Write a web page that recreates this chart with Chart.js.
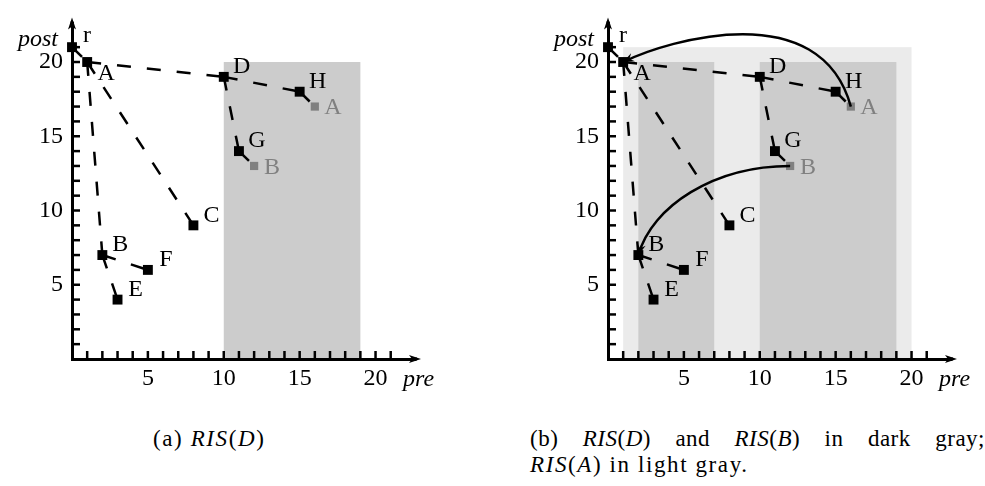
<!DOCTYPE html>
<html>
<head>
<meta charset="utf-8">
<script src="https://cdn.jsdelivr.net/npm/chart.js@4"></script>
<style>
  body { margin: 0; background: #fff; width: 985px; height: 486px; position: relative; overflow: hidden; font-family: "Liberation Serif", "Times New Roman", "DejaVu Serif", serif; }
  .box { position: absolute; top: 0; width: 450px; height: 400px; }
  #boxA { left: 0; }
  #boxB { left: 536px; }
  .cap { position: absolute; font-size: 23px; line-height: 26px; letter-spacing: 1.6px; color: #000; white-space: nowrap; }
  #capA { left: 153px; top: 426px; }
  #capB { left: 530px; top: 426px; width: 455px; }
  #capB .l1 { text-align: justify; text-align-last: justify; white-space: normal; letter-spacing: 0.5px; }
</style>
</head>
<body>
<div class="box" id="boxA"><canvas id="chartA" width="450" height="400"></canvas></div>
<div class="box" id="boxB"><canvas id="chartB" width="450" height="400"></canvas></div>
<div class="cap" id="capA">(a) <i>RIS</i>(<i>D</i>)</div>
<div class="cap" id="capB">
  <div class="l1">(b) <i>RIS</i>(<i>D</i>) and <i>RIS</i>(<i>B</i>) in dark gray;</div>
  <div><i>RIS</i>(<i>A</i>) in light gray.</div>
</div>
<script>
// nodes of the tree (pre, post)
const NODES = ["r", "A", "B", "C", "D", "E", "F", "G", "H"];
const PRE   = [0, 1, 2, 8, 10, 3, 5, 11, 15];
const POST  = [21, 20, 7, 9, 19, 4, 6, 14, 18];
// gray copies of A and B
const GHOSTS = ["A", "B"];
const GHOST_PRE  = [16, 12];
const GHOST_POST = [17, 13];
// dashed edges
const EDGES = [["r", "A"], ["A", "D"], ["A", "C"], ["A", "B"], ["B", "E"], ["B", "F"],
               ["D", "G"], ["D", "H"], ["H", "A'"], ["G", "B'"]];
// regions [preFrom, preTo, postFrom, postTo]
const RIS_D = [10, 19, 0, 20];
const RIS_B = [2, 7, 0, 20];
const RIS_A = [1, 20, 0, 21];
// curved arrows: from, to, two control points (pre, post)
const ARCS_B = [
  { from: "A'", to: "A", c1: [14, 24.5], c2: [4, 21.5] },
  { from: "B'", to: "B", c1: [7, 13], c2: [2.9, 10.3] }
];
const AXIS_MAX = 22.6;

const DARK = "#cccccc", LIGHT = "#ebebeb", GREY = "#808080";
const FAMILY = "'Liberation Serif', 'Times New Roman', 'DejaVu Serif', serif";
const FONT = "24px " + FAMILY;
const IFONT = "italic 24px " + FAMILY;
// label offsets in px from the marker centre
const LABEL_OFF = { r: [15, -11], A: [19, 12], "A'": [18, 1], "B'": [18, 2] };

const pos = {};
NODES.forEach((n, i) => pos[n] = { x: PRE[i], y: POST[i] });
GHOSTS.forEach((n, i) => pos[n + "'"] = { x: GHOST_PRE[i], y: GHOST_POST[i] });

const figPlugin = {
  id: "fig",
  beforeDraw(chart, args, opts) {
    const { ctx, scales: { x, y } } = chart;
    ctx.save();
    for (const r of opts.rects) {
      const x0 = x.getPixelForValue(r.box[0]), x1 = x.getPixelForValue(r.box[1]);
      const y0 = y.getPixelForValue(r.box[2]), y1 = y.getPixelForValue(r.box[3]);
      ctx.fillStyle = r.color;
      ctx.fillRect(x0, y1, x1 - x0, y0 - y1);
    }
    ctx.restore();
  },
  afterDatasetsDraw(chart, args, opts) {
    const { ctx, scales: { x, y } } = chart;
    ctx.save();
    // curved arrows
    for (const a of opts.arcs) {
      const p0 = pos[a.from], p3 = pos[a.to];
      const sx = x.getPixelForValue(p0.x), sy = y.getPixelForValue(p0.y);
      const ex = x.getPixelForValue(p3.x), ey = y.getPixelForValue(p3.y);
      const c1x = x.getPixelForValue(a.c1[0]), c1y = y.getPixelForValue(a.c1[1]);
      const c2x = x.getPixelForValue(a.c2[0]), c2y = y.getPixelForValue(a.c2[1]);
      ctx.strokeStyle = "#000";
      ctx.lineWidth = 2.5;
      ctx.setLineDash([]);
      ctx.beginPath();
      ctx.moveTo(sx, sy);
      ctx.bezierCurveTo(c1x, c1y, c2x, c2y, ex, ey);
      ctx.stroke();
      const ang = Math.atan2(ey - c2y, ex - c2x);
      ctx.fillStyle = "#000";
      ctx.beginPath();
      ctx.moveTo(ex, ey);
      ctx.lineTo(ex - 11 * Math.cos(ang) + 4.5 * Math.sin(ang), ey - 11 * Math.sin(ang) - 4.5 * Math.cos(ang));
      ctx.lineTo(ex - 7 * Math.cos(ang), ey - 7 * Math.sin(ang));
      ctx.lineTo(ex - 11 * Math.cos(ang) - 4.5 * Math.sin(ang), ey - 11 * Math.sin(ang) + 4.5 * Math.cos(ang));
      ctx.closePath();
      ctx.fill();
    }
    // node labels
    ctx.font = FONT;
    ctx.textAlign = "center";
    ctx.textBaseline = "middle";
    for (const key of Object.keys(pos)) {
      const off = LABEL_OFF[key] || [18, -10];
      ctx.fillStyle = key.endsWith("'") ? GREY : "#000";
      ctx.fillText(key.replace("'", ""), x.getPixelForValue(pos[key].x) + off[0], y.getPixelForValue(pos[key].y) + off[1]);
    }
    ctx.restore();
  },
  afterDraw(chart) {
    const { ctx, chartArea: ca, scales: { x, y } } = chart;
    ctx.save();
    ctx.strokeStyle = "#000";
    ctx.fillStyle = "#000";
    ctx.lineWidth = 2.5;
    // inward tick marks
    for (const t of x.ticks) {
      if (!Number.isInteger(t.value) || t.value <= 0) continue;
      const px = x.getPixelForValue(t.value);
      ctx.beginPath(); ctx.moveTo(px, ca.bottom); ctx.lineTo(px, ca.bottom - 8); ctx.stroke();
    }
    for (const t of y.ticks) {
      if (!Number.isInteger(t.value) || t.value <= 0) continue;
      const py = y.getPixelForValue(t.value);
      ctx.beginPath(); ctx.moveTo(ca.left, py); ctx.lineTo(ca.left + 8, py); ctx.stroke();
    }
    // arrow heads
    ctx.beginPath();
    ctx.moveTo(ca.right + 6, ca.bottom);
    ctx.lineTo(ca.right - 6, ca.bottom - 4);
    ctx.lineTo(ca.right - 3, ca.bottom);
    ctx.lineTo(ca.right - 6, ca.bottom + 4);
    ctx.closePath(); ctx.fill();
    ctx.fillRect(ca.right - 3, ca.bottom - 1.5, 5, 3);
    ctx.beginPath();
    ctx.moveTo(ca.left, ca.top - 6);
    ctx.lineTo(ca.left - 4, ca.top + 6);
    ctx.lineTo(ca.left, ca.top + 3);
    ctx.lineTo(ca.left + 4, ca.top + 6);
    ctx.closePath(); ctx.fill();
    ctx.fillRect(ca.left - 1.5, ca.top - 2, 3, 5);
    // axis titles
    ctx.font = IFONT;
    ctx.textBaseline = "middle";
    ctx.textAlign = "right";
    ctx.fillText("post", ca.left - 14, ca.top + 16);
    ctx.textAlign = "left";
    ctx.fillText("pre", ca.right - 12, ca.bottom + 21);
    ctx.restore();
  }
};

function makeChart(id, rects, arcs) {
  const datasets = EDGES.map(([a, b]) => ({
    type: "line",
    data: [pos[a], pos[b]],
    borderColor: "#000",
    borderWidth: 2.5,
    borderDash: [14, 16],
    pointRadius: 0,
    fill: false,
    clip: false
  }));
  datasets.push({
    type: "scatter",
    data: NODES.map((n) => pos[n]),
    pointStyle: "rect",
    pointRadius: 7,
    backgroundColor: "#000",
    borderWidth: 0,
    clip: false
  });
  datasets.push({
    type: "scatter",
    data: GHOSTS.map((n) => pos[n + "'"]),
    pointStyle: "rect",
    pointRadius: 5.8,
    backgroundColor: GREY,
    borderWidth: 0,
    clip: false
  });
  const axis = (size) => ({
    type: "linear",
    min: 0,
    max: AXIS_MAX,
    grid: { display: false, drawTicks: false },
    border: { display: true, color: "#000", width: 3 },
    ticks: {
      stepSize: 1,
      autoSkip: false,
      maxRotation: 0,
      color: "#000",
      font: { family: FAMILY, size: 24 },
      callback: (v) => (v > 0 && v % 5 === 0 ? String(v) : "")
    },
    afterFit: size
  });
  const x = axis((s) => { s.height = 41; });
  x.ticks.padding = 5;
  const y = axis((s) => { s.width = 72; });
  y.ticks.padding = 9;
  return new Chart(document.getElementById(id), {
    type: "scatter",
    data: { datasets },
    options: {
      responsive: false,
      animation: false,
      layout: { padding: { left: 0, top: 17, right: 35, bottom: 0 } },
      scales: { x, y },
      plugins: {
        legend: { display: false },
        tooltip: { enabled: false },
        fig: { rects, arcs }
      }
    },
    plugins: [figPlugin]
  });
}

makeChart("chartA", [{ box: RIS_D, color: DARK }], []);
makeChart("chartB", [{ box: RIS_A, color: LIGHT }, { box: RIS_B, color: DARK }, { box: RIS_D, color: DARK }], ARCS_B);
</script>
</body>
</html>
